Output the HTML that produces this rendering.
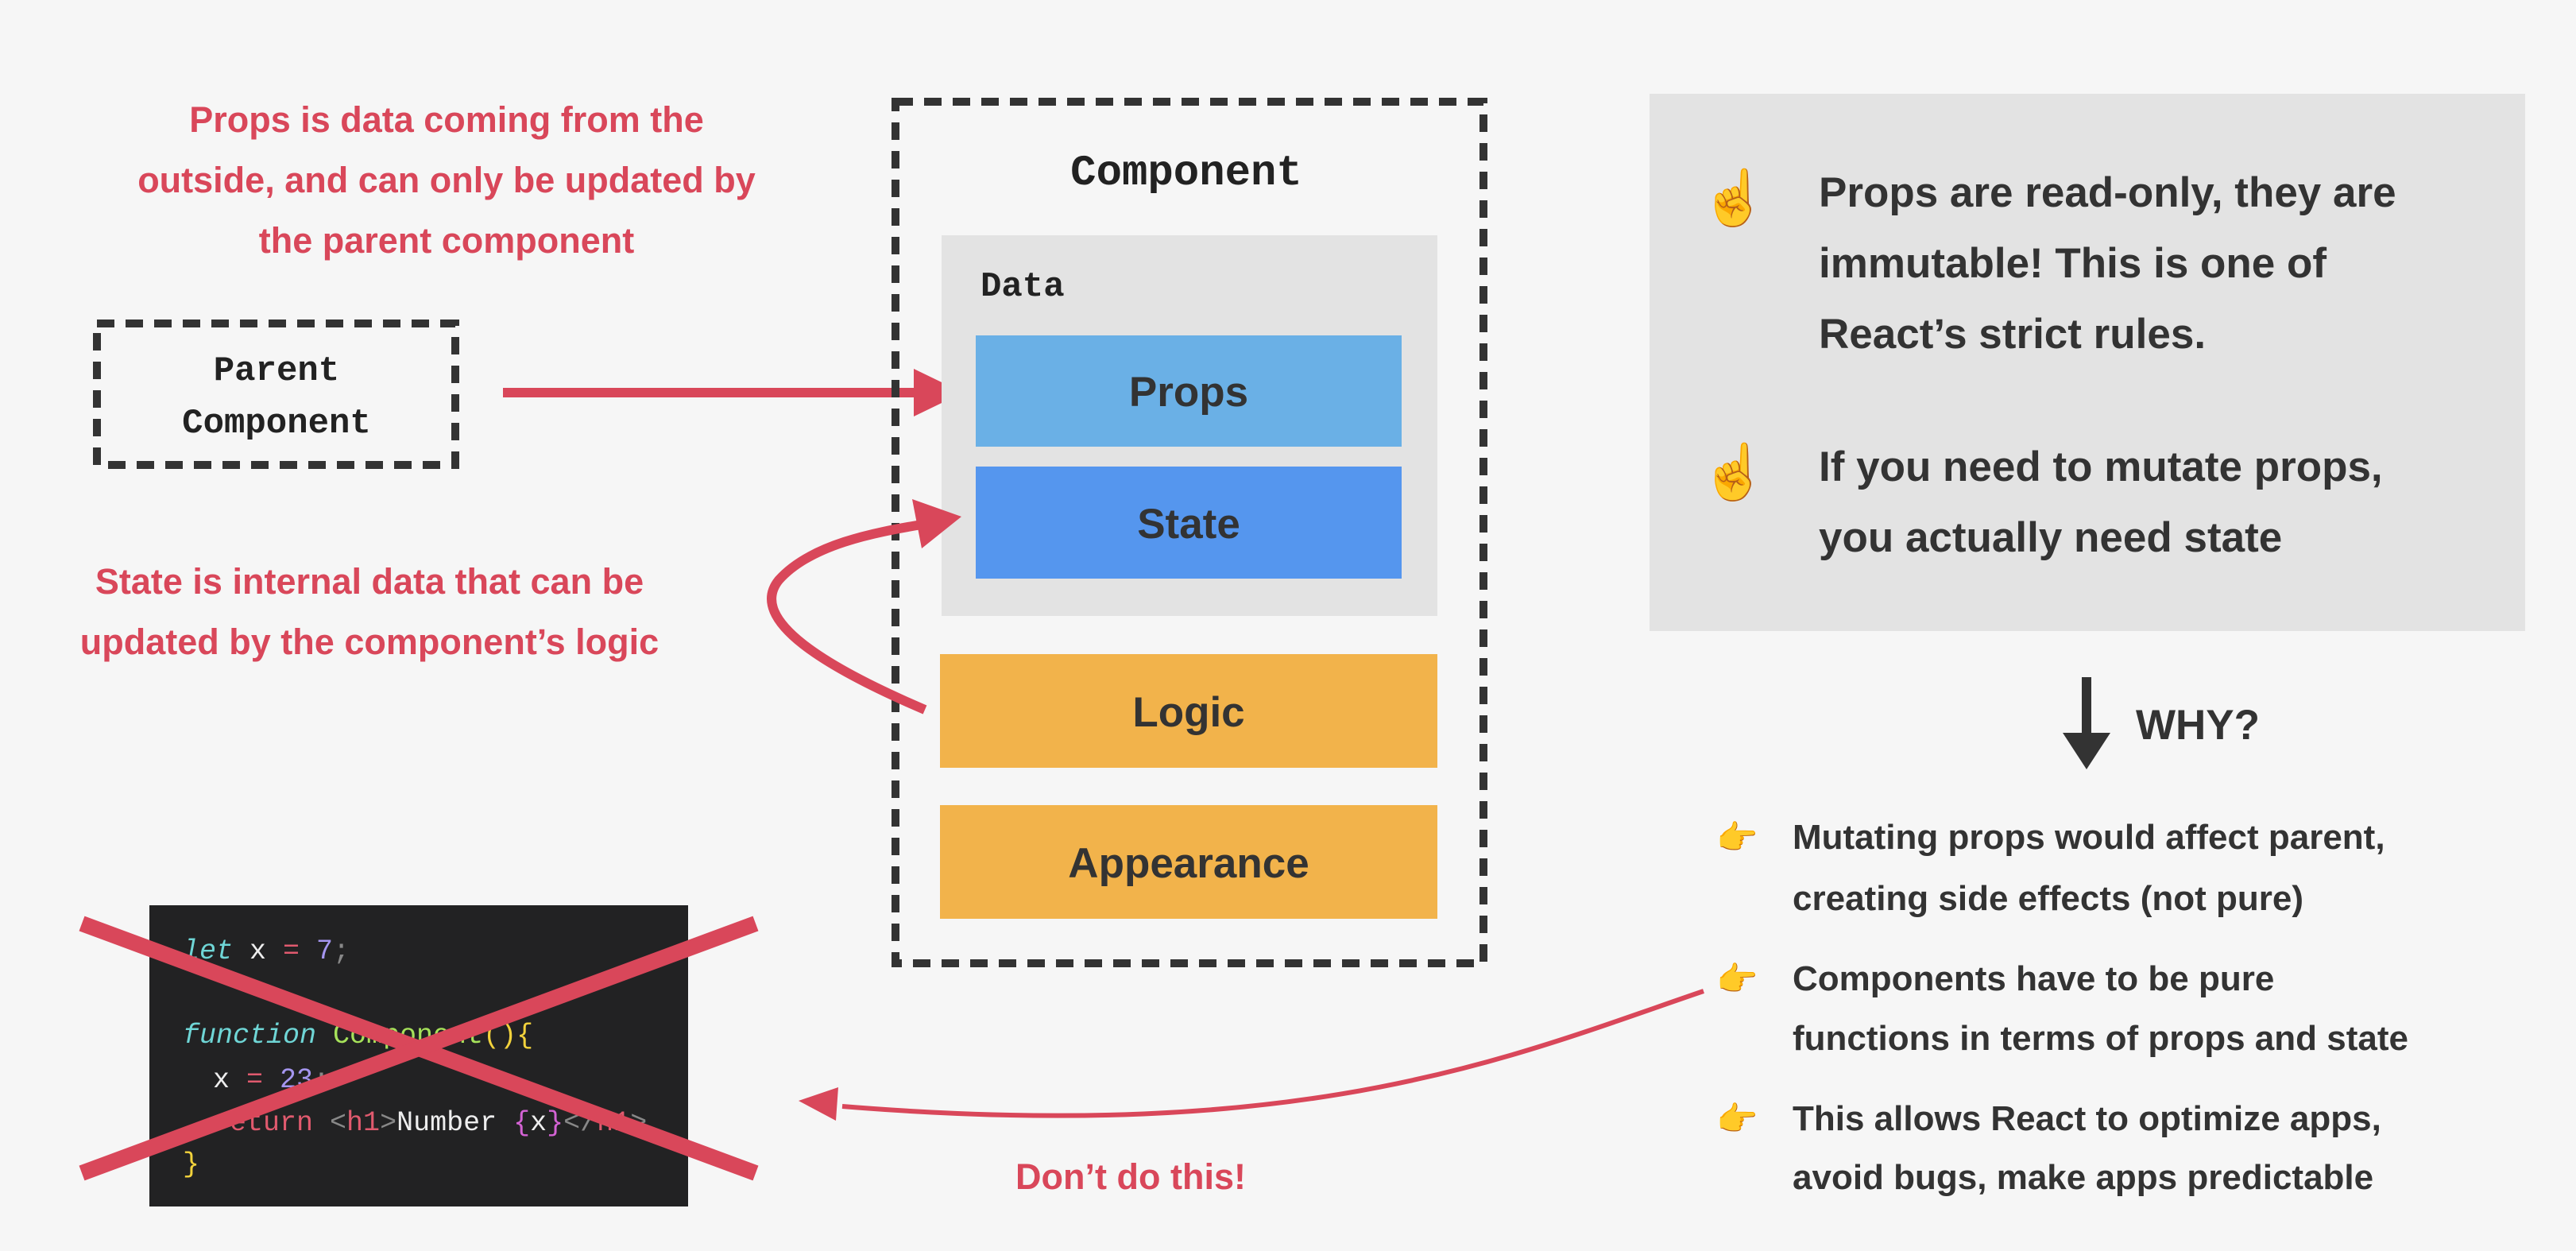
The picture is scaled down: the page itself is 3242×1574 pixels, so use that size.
<!DOCTYPE html>
<html><head><meta charset="utf-8"><style>
html,body{margin:0;padding:0;background:#f6f6f6;}
svg{display:block}
.r{font-family:"Liberation Sans",sans-serif;fill:#d9475a;font-size:45px;font-weight:bold}
.d{font-family:"Liberation Sans",sans-serif;fill:#333;font-size:53px;font-weight:bold}
.b{font-family:"Liberation Sans",sans-serif;fill:#333;font-size:44px;font-weight:bold}
.m{font-family:"Liberation Mono",monospace;font-weight:bold;fill:#222}
.c{font-family:"Liberation Mono",monospace;font-size:35px}
</style></head><body>
<svg width="3242" height="1574" viewBox="0 0 3242 1574" xmlns="http://www.w3.org/2000/svg">
<rect width="3242" height="1574" fill="#f6f6f6"/>
<!-- top-left red text -->
<text class="r" text-anchor="middle" x="562" y="166">Props is data coming from the</text>
<text class="r" text-anchor="middle" x="562" y="242"><tspan font-weight="bold">outside</tspan>, and can <tspan font-weight="bold">only</tspan> be updated by</text>
<text class="r" text-anchor="middle" x="562" y="318">the <tspan font-weight="bold">parent component</tspan></text>
<!-- parent box -->
<rect x="122" y="407" width="451" height="178" fill="none" stroke="#333" stroke-width="10" stroke-dasharray="22 14"/>
<text class="m" font-size="44" text-anchor="middle" x="348" y="478">Parent</text>
<text class="m" font-size="44" text-anchor="middle" x="348" y="544">Component</text>
<!-- arrow props -->
<line x1="633" y1="494" x2="1160" y2="494" stroke="#d9475a" stroke-width="12"/>
<polygon points="1212,494 1150,464 1150,524" fill="#d9475a"/>
<!-- component -->
<rect x="1127" y="128" width="740" height="1084" fill="none" stroke="#333" stroke-width="10" stroke-dasharray="22 14"/>
<text class="m" font-size="54" text-anchor="middle" x="1493" y="232">Component</text>
<rect x="1185" y="296" width="624" height="479" fill="#e3e3e3"/>
<text class="m" font-size="44" x="1234" y="372">Data</text>
<rect x="1228" y="422" width="536" height="140" fill="#6ab0e6"/>
<text class="d" text-anchor="middle" x="1496" y="511">Props</text>
<rect x="1228" y="587" width="536" height="141" fill="#5596ee"/>
<text class="d" text-anchor="middle" x="1496" y="677">State</text>
<rect x="1183" y="823" width="626" height="143" fill="#f2b34b"/>
<text class="d" text-anchor="middle" x="1496" y="914">Logic</text>
<rect x="1183" y="1013" width="626" height="143" fill="#f2b34b"/>
<text class="d" text-anchor="middle" x="1496" y="1104">Appearance</text>
<!-- state curve -->
<path d="M1164,893 C1040,840 940,780 980,730 C1020,685 1100,670 1160,660" fill="none" stroke="#d9475a" stroke-width="12"/>
<polygon points="1210,650 1148,628 1160,690" fill="#d9475a"/>
<text class="r" text-anchor="middle" x="465" y="747">State is <tspan font-weight="bold">internal</tspan> data that can be</text>
<text class="r" text-anchor="middle" x="465" y="823">updated by the <tspan font-weight="bold">component’s</tspan> logic</text>
<!-- code box -->
<rect x="188" y="1139" width="678" height="379" fill="#222223"/>
<g class="c">
<text x="230" y="1206"><tspan fill="#6fd6d6" font-style="italic">let</tspan><tspan fill="#eee"> x </tspan><tspan fill="#e05a6e">=</tspan><tspan fill="#a596f0"> 7</tspan><tspan fill="#888">;</tspan></text>
<text x="230" y="1312"><tspan fill="#6fd6d6" font-style="italic">function</tspan><tspan fill="#a6e25a"> Component</tspan><tspan fill="#f2d23c">(){</tspan></text>
<text x="268" y="1368"><tspan fill="#eee">x </tspan><tspan fill="#e05a6e">=</tspan><tspan fill="#a596f0"> 23</tspan><tspan fill="#888">;</tspan></text>
<text x="268" y="1422"><tspan fill="#e05a6e">return</tspan><tspan fill="#888"> &lt;</tspan><tspan fill="#e05a6e">h1</tspan><tspan fill="#888">&gt;</tspan><tspan fill="#eee">Number </tspan><tspan fill="#d463d4">{</tspan><tspan fill="#eee">x</tspan><tspan fill="#d463d4">}</tspan><tspan fill="#888">&lt;/</tspan><tspan fill="#e05a6e">h1</tspan><tspan fill="#888">&gt;</tspan></text>
<text x="230" y="1474" fill="#f2d23c">}</text>
</g>
<line x1="103" y1="1162" x2="951" y2="1476" stroke="#d9475a" stroke-width="20"/>
<line x1="103" y1="1476" x2="951" y2="1162" stroke="#d9475a" stroke-width="20"/>
<!-- bottom curve -->
<path d="M2144,1247 C1900,1330 1650,1440 1060,1392" fill="none" stroke="#d9475a" stroke-width="6"/>
<polygon points="1005,1385 1055,1368 1052,1410" fill="#d9475a"/>
<text class="r" font-size="44" text-anchor="middle" x="1423" y="1496">Don’t do this!</text>
<!-- right box -->
<rect x="2076" y="118" width="1102" height="676" fill="#e3e3e3"/>
<text x="2140" y="272" font-size="68">☝️</text>
<text class="d" x="2289" y="260">Props are read-only, they are</text>
<text class="d" x="2289" y="349">immutable! This is one of</text>
<text class="d" x="2289" y="438">React’s strict rules.</text>
<text x="2140" y="617" font-size="68">☝️</text>
<text class="d" x="2289" y="605">If you need to mutate props,</text>
<text class="d" x="2289" y="694">you actually need state</text>
<!-- WHY -->
<rect x="2620" y="852" width="12" height="80" fill="#333"/>
<polygon points="2596,922 2656,922 2626,968" fill="#333"/>
<text class="d" font-size="50" x="2688" y="930">WHY?</text>
<g class="b">
<text x="2160" y="1068" font-size="42">👉</text>
<text x="2256" y="1068">Mutating props would affect parent,</text>
<text x="2256" y="1145">creating side effects (not pure)</text>
<text x="2160" y="1246" font-size="42">👉</text>
<text x="2256" y="1246">Components have to be pure</text>
<text x="2256" y="1321">functions in terms of props and state</text>
<text x="2160" y="1422" font-size="42">👉</text>
<text x="2256" y="1422">This allows React to optimize apps,</text>
<text x="2256" y="1496">avoid bugs, make apps predictable</text>
</g>
</svg>
</body></html>
